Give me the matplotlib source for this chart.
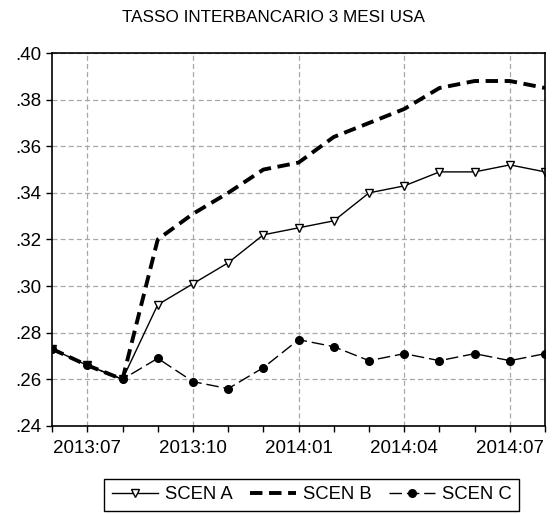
import numpy as np
import matplotlib.pyplot as plt
from matplotlib.ticker import FixedLocator, FuncFormatter

plt.rcParams['font.family'] = ['Liberation Sans', 'DejaVu Sans']

# monthly, 2013:06 .. 2014:08
months = ['2013:06', '2013:07', '2013:08', '2013:09', '2013:10', '2013:11', '2013:12',
          '2014:01', '2014:02', '2014:03', '2014:04', '2014:05', '2014:06', '2014:07', '2014:08']
scen_a = [.273, .266, .260, .292, .301, .310, .322, .325, .328, .340, .343, .349, .349, .352, .349]
scen_b = [.273, .266, .260, .320, .331, .340, .350, .353, .364, .370, .376, .385, .388, .388, .385]
scen_c = [.273, .266, .260, .269, .259, .256, .265, .277, .274, .268, .271, .268, .271, .268, .271]
shown = ['2013:07', '2013:10', '2014:01', '2014:04', '2014:07']

x = np.arange(len(months))

fig = plt.figure(figsize=(5.54, 5.15), dpi=100)
ax = fig.add_axes([0.094, 0.173, 0.89, 0.724])

ax.plot(x, scen_a, color='black', lw=1.0, marker='v', ms=5.5,
        mfc='white', mec='black', mew=1.0, label='SCEN A')
ax.plot(x, scen_b, color='black', lw=2.8, dashes=(3.2, 1.7), label='SCEN B')
ax.plot(x, scen_c, color='black', lw=1.0, dashes=(9, 3.5), marker='o', ms=5.5,
        label='SCEN C')

ax.set_xlim(0, len(months) - 1)
ax.set_ylim(.24, .40)
ax.set_yticks(np.arange(.24, .401, .02))
ax.yaxis.set_major_formatter(FuncFormatter(lambda v, p: ('%.2f' % v)[1:]))

major = [months.index(m) for m in shown]
ax.xaxis.set_major_locator(FixedLocator(major))
ax.xaxis.set_minor_locator(FixedLocator(x))
ax.set_xticklabels(shown)

ax.tick_params(axis='both', which='major', labelsize=13.5, length=4, width=1, direction='out')
ax.tick_params(axis='x', which='minor', length=4, width=1, direction='out')
ax.tick_params(axis='x', pad=6)

ax.grid(True, which='major', color='#a8a8a8', linestyle=(0, (4, 2.5)), lw=0.9)
for s in ax.spines.values():
    s.set_linewidth(1.2)

fig.text(0.494, 0.966, 'TASSO INTERBANCARIO 3 MESI USA', fontsize=12.3,
         ha='center', va='center')

leg = fig.legend(loc='center', bbox_to_anchor=(0.563, 0.039), ncol=3, fontsize=13.3,
                 frameon=True, fancybox=False, edgecolor='black', framealpha=1,
                 handlelength=2.5, columnspacing=0.9, handletextpad=0.4,
                 borderpad=0.4)
leg.get_frame().set_linewidth(1.0)

fig.savefig('out.png', dpi=100)
